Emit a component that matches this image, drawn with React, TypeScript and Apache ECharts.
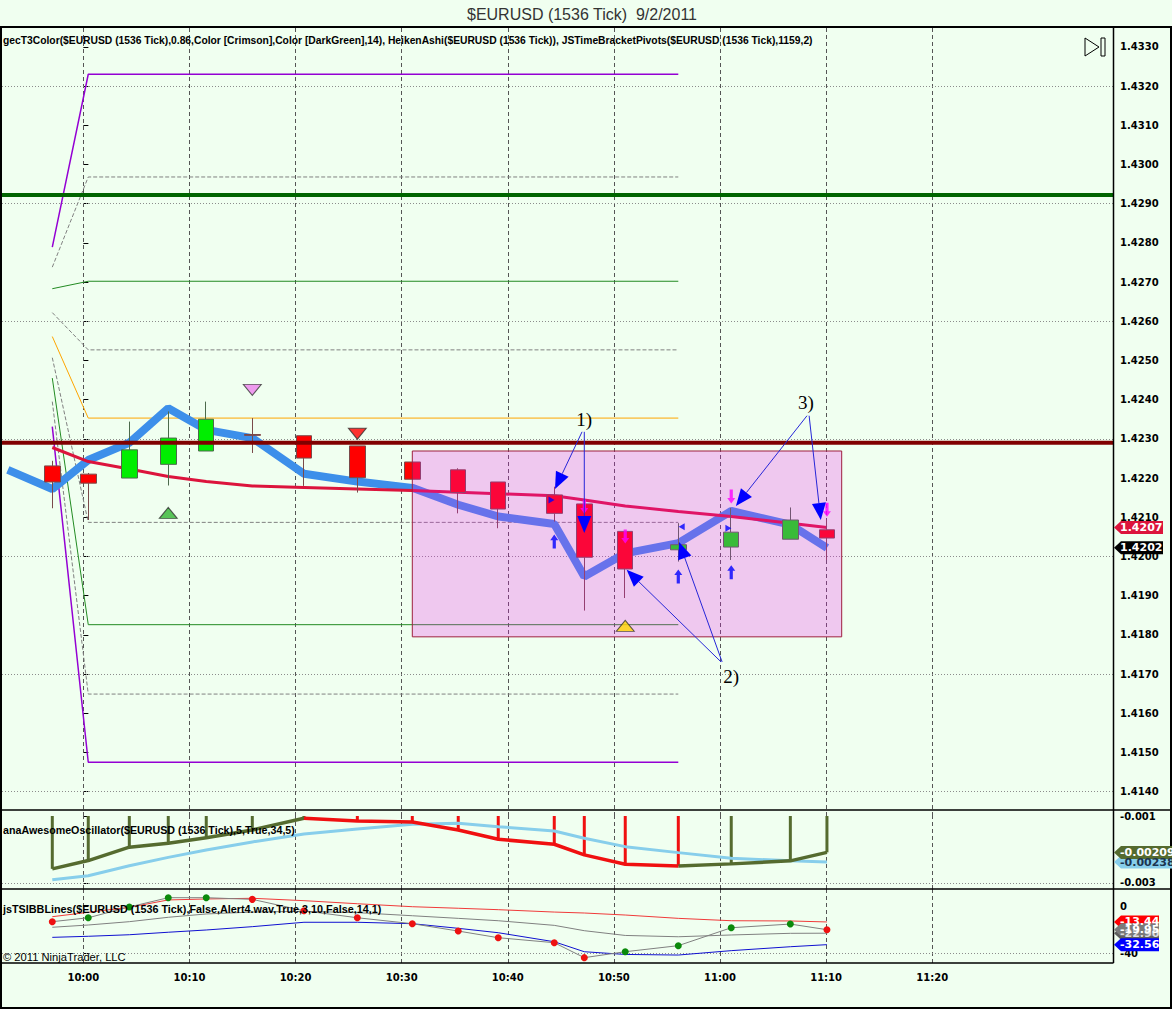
import React, { useEffect, useRef } from "react";
import * as echarts from "echarts";

// ---------------- DATA ----------------
// bar times: minutes after 10:00 (1536-tick Heiken-Ashi bars)
const barTimes = [-2.93, 0.46, 4.33, 8.0, 11.58, 15.92, 20.79, 25.82, 31.0, 35.33, 39.1, 44.38, 47.21, 51.07, 56.07, 61.06, 66.63, 70.08];
const haOpen = [1.42231, 1.4221, 1.422, 1.42235, 1.42269, 1.42311, 1.42308, 1.42282, 1.42241, 1.42221, 1.4219, 1.42157, 1.42134, 1.42064, 1.42017, 1.42024, 1.42044, 1.42068];
const haClose = [1.4219, 1.42187, 1.42272, 1.42302, 1.4235, 1.42309, 1.42251, 1.42201, 1.42197, 1.42163, 1.42121, 1.4211, 1.41998, 1.41968, 1.4203, 1.42062, 1.42093, 1.42047];
const haLow = [1.42123, 1.42093, 1.422, 1.42181, 1.42269, 1.42264, 1.4218, 1.42163, 1.42197, 1.4211, 1.42072, 1.42089, 1.41862, 1.41894, 1.41987, 1.41991, 1.42044, 1.41991];
const haHigh = [1.42244, 1.42213, 1.42344, 1.4237, 1.42395, 1.42353, 1.42308, 1.42282, 1.42241, 1.42225, 1.4219, 1.42178, 1.42134, 1.42064, 1.42085, 1.42124, 1.42125, 1.42093];

// gecT3Color line
const t3Vals = [1.42278, 1.42242, 1.42223, 1.42204, 1.42191, 1.4218, 1.42176, 1.42172, 1.42168, 1.42164, 1.4216, 1.42155, 1.42144, 1.42129, 1.42115, 1.42102, 1.42085, 1.42074];
// thick blue price line (starts one bar earlier)
const blueTimes = [-7.12, ...barTimes];
const blueVals = [1.42221, 1.42172, 1.42246, 1.4229, 1.42378, 1.42323, 1.42302, 1.42211, 1.42191, 1.42175, 1.42132, 1.42102, 1.42083, 1.41949, 1.42008, 1.42034, 1.42116, 1.42081, 1.42022];

// JSTimeBracketPivots: start value, bend/level value (times: first bar, second bar, end bar)
const pivotTimes = [-2.93, 0.46, 56.07];
const pivotStart = [1.42789, 1.42738, 1.42683, 1.42622, 1.42561, 1.42507, 1.42455, 1.42395, 1.42331];
const pivotLevel = [1.4323, 1.42968, 1.42702, 1.42527, 1.42353, 1.42087, 1.41826, 1.41649, 1.41475];

// horizontal key levels
const darkGreenLevel = 1.42922;
const maroonLevel = 1.4229;

// highlighted box
const boxTimes = [31.0, 71.47];
const boxPrices = [1.42269, 1.41795];

// signal triangles
const signalT = [8.0, 15.92, 25.82, 51.07];
const signalP = [1.42111, 1.42425, 1.42313, 1.41823];
const signalUp = [true, false, false, true];
// entry arrows
const upArrowT = [44.38, 56.07, 61.06];
const upArrowP = [1.42038, 1.41949, 1.4196];
const downArrowT = [47.21, 51.07, 61.06, 70.08];
const downArrowP = [1.42127, 1.42051, 1.42153, 1.42119];
const smallTriT = [44.12, 56.39, 60.79];
const smallTriP = [1.42144, 1.42076, 1.42072];
const smallTriRight = [true, false, true];

// hand-drawn annotations
const annoText = ["1)", "2)", "3)"];
const annoTextT = [47.2, 61.06, 68.1];
const annoTextP = [1.42349, 1.41695, 1.42392];
// [fromT, fromP, toT, toP]
const annoArrows = [
  [47.0, 1.42318, 44.45, 1.42172],
  [47.21, 1.42318, 47.21, 1.4206],
  [60.1, 1.41731, 51.2, 1.41966],
  [60.2, 1.41731, 56.14, 1.42037],
  [68.2, 1.42359, 61.5, 1.42129],
  [68.4, 1.42359, 69.5, 1.42093],
];

// anaAwesomeOscillator
const aoVals = [-0.002582, -0.002334, -0.001934, -0.001815, -0.001648, -0.001418, -0.001069, -0.001149, -0.001179, -0.001418, -0.001696, -0.001845, -0.002164, -0.002442, -0.002493, -0.002433, -0.002343, -0.00209];
const aoSignal = [-0.00291, -0.00279, -0.00249, -0.002239, -0.002015, -0.001776, -0.001537, -0.001388, -0.001248, -0.001218, -0.00132, -0.001448, -0.001666, -0.001917, -0.002096, -0.002263, -0.002343, -0.00238];

// jsTSIBBLines
const tsiUpper = [-9.0, -5.3, -1.1, 5.1, 5.9, 6.5, 4.5, 1.9, -0.6, -1.9, -3.1, -5.1, -5.9, -7.6, -10.4, -12.4, -12.6, -13.44];
const tsiMid = [-17.9, -16.0, -13.2, -9.5, -6.7, -5.1, -4.5, -5.6, -8.2, -10.4, -12.4, -16.3, -20.8, -24.8, -25.9, -24.4, -23.0, -22.9];
const tsiLower = [-26.4, -25.5, -24.2, -22.1, -20.2, -17.4, -13.7, -13.7, -14.9, -18.8, -22.5, -30.1, -38.5, -40.8, -41.3, -37.6, -34.3, -32.56];
const tsiLine = [-13.2, -9.9, -0.8, 7.0, 7.0, 5.6, -4.0, -9.9, -14.9, -21.1, -26.7, -30.9, -43.5, -38.5, -33.4, -18.3, -15.2, -19.95];
const tsiDotUp = [false, true, true, true, true, false, false, false, false, false, false, false, false, true, true, true, true, false];

// axes
const timeTicks = [0, 10, 20, 30, 40, 50, 60, 70, 80];
const timeLabels = ["10:00", "10:10", "10:20", "10:30", "10:40", "10:50", "11:00", "11:10", "11:20"];
const priceTicks = [1.414, 1.415, 1.416, 1.417, 1.418, 1.419, 1.42, 1.421, 1.422, 1.423, 1.424, 1.425, 1.426, 1.427, 1.428, 1.429, 1.43, 1.431, 1.432, 1.433];
const priceGrid = [1.414, 1.417, 1.42, 1.423, 1.426, 1.429, 1.432];
const aoTicks = [-0.003, -0.001];
const aoGrid = [-0.003];
const tsiTicks = [-40, 0];
const tsiGrid = [-40];

const X_MIN = -7.67;
const X_MAX = 97.04;
const MAIN_MIN = 1.41338;
const MAIN_MAX = 1.43348;
const AO_MIN = -0.003185;
const AO_MAX = -0.001;
const TSI_MIN = -48.0;
const TSI_MAX = 14.32;

const W = 1172;
const H = 1009;
const BG = "#F0FFF0";
const LABEL_FONT = '"Liberation Sans Narrow", "Liberation Sans", sans-serif';

const pivotColor = ["#9400D3", "#808080", "#228B22", "#808080", "#FFA500", "#808080", "#228B22", "#808080", "#9400D3"];
const pivotDashed = [false, true, false, true, false, true, false, true, false];

function gridLines(xs: number[], ys: number[]) {
  return {
    silent: true,
    symbol: ["none", "none"],
    precision: 6,
    label: { show: false },
    emphasis: { disabled: true },
    animation: false,
    data: [
      ...xs.map((t) => ({ xAxis: t, lineStyle: { type: [4, 3], color: "#555555", width: 1 } })),
      ...ys.map((v) => ({ yAxis: v, lineStyle: { type: [1, 2], color: "#8c8c8c", width: 1 } })),
    ],
  };
}

function yAxisCfg(gridIndex: number, min: number, max: number, ticks: number[], digits: number) {
  return {
    type: "value",
    gridIndex,
    position: "right",
    min,
    max,
    axisLine: { show: false },
    splitLine: { show: false },
    axisTick: { show: true, customValues: ticks, length: 5, lineStyle: { color: "#000", width: 1 } },
    axisLabel: {
      customValues: ticks,
      formatter: (v: number) => (digits === 0 ? String(Math.round(v)) : v.toFixed(digits)),
      color: "#000",
      fontWeight: "bold",
      fontSize: 10,
      fontFamily: "DejaVu Sans",
      margin: 7,
    },
  };
}

function xAxisCfg(gridIndex: number, showLabels: boolean) {
  return {
    type: "value",
    gridIndex,
    min: X_MIN,
    max: X_MAX,
    show: showLabels,
    axisLine: { show: false },
    axisTick: { show: false },
    splitLine: { show: false },
    axisLabel: {
      show: showLabels,
      customValues: timeTicks,
      formatter: (v: number) => {
        const i = timeTicks.indexOf(Math.round(v));
        return i >= 0 ? timeLabels[i] : "";
      },
      color: "#000",
      fontWeight: "bold",
      fontSize: 10,
      fontFamily: "DejaVu Sans",
      margin: 9,
    },
  };
}

export default function App() {
  const ref = useRef<HTMLDivElement>(null);

  useEffect(() => {
    if (!ref.current) return;
    const chart = echarts.init(ref.current, null, { renderer: "svg", width: W, height: H });

    const n = barTimes.length;
    const aoUp = aoVals.map((v, i) => (i === 0 ? true : v > aoVals[i - 1]));
    const aoGreen = aoVals.map((v, i) => (aoUp[i] || (i + 1 < n && aoUp[i + 1]) ? [barTimes[i], v] : [barTimes[i], null]));
    const aoRed = aoVals.map((v, i) => (!aoUp[i] || (i + 1 < n && !aoUp[i + 1]) ? [barTimes[i], v] : [barTimes[i], null]));

    const pivotSeries = pivotStart.map((s, k) => ({
      type: "line",
      xAxisIndex: 0,
      yAxisIndex: 0,
      z: 6,
      symbol: "none",
      silent: true,
      data: [
        [pivotTimes[0], s],
        [pivotTimes[1], pivotLevel[k]],
        [pivotTimes[2], pivotLevel[k]],
      ],
      lineStyle: {
        color: pivotColor[k],
        width: pivotColor[k] === "#9400D3" ? 1.5 : 1,
        type: pivotDashed[k] ? [4, 2] : "solid",
      },
    }));

    const option: any = {
      animation: false,
      backgroundColor: BG,
      grid: [
        { left: 2, right: 59, top: 28, height: 788 },
        { left: 2, right: 59, top: 816, height: 73 },
        { left: 2, right: 59, top: 889, height: 74 },
      ],
      xAxis: [xAxisCfg(0, false), xAxisCfg(1, false), xAxisCfg(2, true)],
      yAxis: [
        yAxisCfg(0, MAIN_MIN, MAIN_MAX, priceTicks, 4),
        yAxisCfg(1, AO_MIN, AO_MAX, aoTicks, 3),
        yAxisCfg(2, TSI_MIN, TSI_MAX, tsiTicks, 0),
      ],
      series: [
        ...pivotSeries,
        {
          type: "line",
          name: "T3",
          xAxisIndex: 0,
          yAxisIndex: 0,
          z: 8,
          symbol: "none",
          data: barTimes.map((t, i) => [t, t3Vals[i]]),
          lineStyle: { color: "#DC143C", width: 3 },
          markLine: gridLines(timeTicks, priceGrid),
        },
        {
          type: "line",
          name: "Price",
          xAxisIndex: 0,
          yAxisIndex: 0,
          z: 7,
          symbol: "none",
          data: blueTimes.map((t, i) => [t, blueVals[i]]),
          lineStyle: { color: "#3D8FEA", width: 8 },
        },
        {
          type: "candlestick",
          name: "HeikenAshi",
          xAxisIndex: 0,
          yAxisIndex: 0,
          z: 10,
          barWidth: 16,
          encode: { x: 0, y: [1, 2, 3, 4] },
          data: barTimes.map((t, i) => [t, haOpen[i], haClose[i], haLow[i], haHigh[i]]),
          itemStyle: {
            color: "#00EE00",
            color0: "#FF0000",
            borderColor: "#4c6a4c",
            borderColor0: "#7a4a4a",
            borderWidth: 1,
          },
        },
        {
          type: "custom",
          name: "Box",
          xAxisIndex: 0,
          yAxisIndex: 0,
          z: 11,
          silent: true,
          data: [[boxTimes[0], boxPrices[0], boxTimes[1], boxPrices[1]]],
          encode: { x: [0, 2], y: [1, 3] },
          renderItem: (params: any, api: any) => {
            const a = api.coord([api.value(0), api.value(1)]);
            const b = api.coord([api.value(2), api.value(3)]);
            return {
              type: "rect",
              shape: { x: a[0], y: a[1], width: b[0] - a[0], height: b[1] - a[1] },
              style: { fill: "rgba(240,26,240,0.24)", stroke: "#9E1F3F", lineWidth: 1 },
            };
          },
        },
        {
          type: "line",
          xAxisIndex: 0,
          yAxisIndex: 0,
          z: 12,
          symbol: "none",
          silent: true,
          data: [[X_MIN, darkGreenLevel], [X_MAX, darkGreenLevel]],
          lineStyle: { color: "#006400", width: 4 },
        },
        {
          type: "line",
          xAxisIndex: 0,
          yAxisIndex: 0,
          z: 12,
          symbol: "none",
          silent: true,
          data: [[X_MIN, maroonLevel], [X_MAX, maroonLevel]],
          lineStyle: { color: "#800000", width: 4 },
        },
        {
          type: "scatter",
          xAxisIndex: 0,
          yAxisIndex: 0,
          z: 13,
          symbol: "triangle",
          symbolSize: [18, 11],
          data: signalT.map((t, i) => ({
            value: [t, signalP[i]],
            symbolRotate: signalUp[i] ? 0 : 180,
            itemStyle: { color: ["#33B533", "#EE82EE", "#FF0000", "#FFD700"][i] },
          })),
          itemStyle: { borderColor: "#333", borderWidth: 1 },
        },
        {
          type: "scatter",
          xAxisIndex: 0,
          yAxisIndex: 0,
          z: 13,
          symbol: "path://M5,0 L10,6 L7,6 L7,15 L3,15 L3,6 L0,6 Z",
          symbolSize: [8, 14],
          data: upArrowT.map((t, i) => [t, upArrowP[i]]),
          itemStyle: { color: "#0000FF" },
        },
        {
          type: "scatter",
          xAxisIndex: 0,
          yAxisIndex: 0,
          z: 13,
          symbol: "path://M5,0 L10,6 L7,6 L7,15 L3,15 L3,6 L0,6 Z",
          symbolSize: [8, 14],
          symbolRotate: 180,
          data: downArrowT.map((t, i) => [t, downArrowP[i]]),
          itemStyle: { color: "#FF00FF" },
        },
        {
          type: "scatter",
          xAxisIndex: 0,
          yAxisIndex: 0,
          z: 13,
          symbol: "triangle",
          symbolSize: [7, 6],
          data: smallTriT.map((t, i) => ({ value: [t, smallTriP[i]], symbolRotate: smallTriRight[i] ? -90 : 90 })),
          itemStyle: { color: "#0000FF" },
        },
        // ---- Awesome Oscillator ----
        {
          type: "bar",
          xAxisIndex: 1,
          yAxisIndex: 1,
          z: 6,
          barWidth: 3,
          silent: true,
          data: aoVals.map((v, i) => ({
            value: [barTimes[i], v],
            itemStyle: { color: aoUp[i] ? "#556B2F" : "#F01010" },
          })),
        },
        {
          type: "line",
          xAxisIndex: 1,
          yAxisIndex: 1,
          z: 7,
          symbol: "none",
          data: barTimes.map((t, i) => [t, aoSignal[i]]),
          lineStyle: { color: "#87CEEB", width: 3 },
          markLine: gridLines(timeTicks, aoGrid),
        },
        {
          type: "line",
          xAxisIndex: 1,
          yAxisIndex: 1,
          z: 8,
          symbol: "none",
          connectNulls: false,
          data: aoGreen,
          lineStyle: { color: "#556B2F", width: 3.5 },
        },
        {
          type: "line",
          xAxisIndex: 1,
          yAxisIndex: 1,
          z: 8,
          symbol: "none",
          connectNulls: false,
          data: aoRed,
          lineStyle: { color: "#F01010", width: 3.5 },
        },
        // ---- TSI BB lines ----
        {
          type: "line",
          xAxisIndex: 2,
          yAxisIndex: 2,
          z: 7,
          symbol: "none",
          data: barTimes.map((t, i) => [t, tsiUpper[i]]),
          lineStyle: { color: "#F03A3A", width: 1 },
          markLine: gridLines(timeTicks, tsiGrid),
        },
        {
          type: "line",
          xAxisIndex: 2,
          yAxisIndex: 2,
          z: 7,
          symbol: "none",
          data: barTimes.map((t, i) => [t, tsiMid[i]]),
          lineStyle: { color: "#808080", width: 1 },
        },
        {
          type: "line",
          xAxisIndex: 2,
          yAxisIndex: 2,
          z: 7,
          symbol: "none",
          data: barTimes.map((t, i) => [t, tsiLower[i]]),
          lineStyle: { color: "#1010D0", width: 1 },
        },
        {
          type: "line",
          xAxisIndex: 2,
          yAxisIndex: 2,
          z: 8,
          symbol: "circle",
          symbolSize: 7,
          showSymbol: true,
          data: barTimes.map((t, i) => ({
            value: [t, tsiLine[i]],
            itemStyle: { color: tsiDotUp[i] ? "#0A8A0A" : "#EE1111" },
          })),
          lineStyle: { color: "#808080", width: 1 },
        },
      ],
    };

    chart.setOption(option);

    // ---- graphics positioned through the chart's own scales ----
    const px = (t: number, p: number) => chart.convertToPixel({ gridIndex: 0 }, [t, p]) as number[];
    const g: any[] = [];

    // title + labels
    g.push({
      type: "text",
      x: 582,
      y: 14,
      z: 100,
      style: {
        text: "$EURUSD (1536 Tick)  9/2/2011",
        font: `16px ${LABEL_FONT}`,
        fill: "#333",
        textAlign: "center",
        textVerticalAlign: "middle",
      },
    });
    const panelLabels = [
      { text: "gecT3Color($EURUSD (1536 Tick),0.86,Color [Crimson],Color [DarkGreen],14), HeikenAshi($EURUSD (1536 Tick)), JSTimeBracketPivots($EURUSD (1536 Tick),1159,2)", y: 40, bold: true, size: 10.3 },
      { text: "anaAwesomeOscillator($EURUSD (1536 Tick),5,True,34,5)", y: 830, bold: true, size: 10.7 },
      { text: "jsTSIBBLines($EURUSD (1536 Tick),False,Alert4.wav,True,3,10,False,14,1)", y: 909, bold: true, size: 10.8 },
      { text: "© 2011 NinjaTrader, LLC", y: 957, bold: false, size: 11.2 },
    ];
    panelLabels.forEach((l) =>
      g.push({
        type: "text",
        x: 3,
        y: l.y,
        z: 100,
        style: {
          text: l.text,
          font: `${l.bold ? "bold " : ""}${l.size}px ${LABEL_FONT}`,
          fill: "#000",
          textAlign: "left",
          textVerticalAlign: "middle",
        },
      })
    );

    // frame
    const stroke = { stroke: "#000", lineWidth: 1.5 };
    g.push({ type: "rect", z: 100, shape: { x: 1, y: 27, width: 1170, height: 981 }, style: { fill: "none", stroke: "#000", lineWidth: 2 } });
    g.push({ type: "line", z: 100, shape: { x1: 0, y1: 810, x2: W, y2: 810 }, style: stroke });
    g.push({ type: "line", z: 100, shape: { x1: 0, y1: 889, x2: W, y2: 889 }, style: stroke });
    g.push({ type: "line", z: 100, shape: { x1: 0, y1: 963, x2: 1113.5, y2: 963 }, style: stroke });
    g.push({ type: "line", z: 100, shape: { x1: 1113.5, y1: 27, x2: 1113.5, y2: 963 }, style: stroke });

    // play icon
    g.push({ type: "polygon", z: 100, shape: { points: [[1085, 38], [1085, 56], [1099, 47]] }, style: { fill: "none", stroke: "#000", lineWidth: 1 } });
    g.push({ type: "rect", z: 100, shape: { x: 1101, y: 38, width: 4, height: 18 }, style: { fill: "none", stroke: "#000", lineWidth: 1 } });

    // annotation arrows
    annoArrows.forEach((a) => {
      const s = px(a[0], a[1]);
      const e = px(a[2], a[3]);
      const dx = e[0] - s[0];
      const dy = e[1] - s[1];
      const L = Math.hypot(dx, dy) || 1;
      const ux = dx / L;
      const uy = dy / L;
      const hl = 17;
      const hw = 7;
      const bx = e[0] - ux * hl;
      const by = e[1] - uy * hl;
      g.push({ type: "line", z: 101, shape: { x1: s[0], y1: s[1], x2: bx, y2: by }, style: { stroke: "#2626D8", lineWidth: 1 } });
      g.push({
        type: "polygon",
        z: 101,
        shape: { points: [[e[0], e[1]], [bx - uy * hw, by + ux * hw], [bx + uy * hw, by - ux * hw]] },
        style: { fill: "#0000FF" },
      });
    });
    annoText.forEach((txt, i) => {
      const p = px(annoTextT[i], annoTextP[i]);
      g.push({
        type: "text",
        z: 101,
        x: p[0],
        y: p[1],
        style: { text: txt, font: '19px "Liberation Serif", serif', fill: "#000", textAlign: "center", textVerticalAlign: "middle" },
      });
    });

    // value tags on the right axis
    const last = n - 1;
    const tags = [
      { axis: 0, value: t3Vals[last], digits: 4, bg: "#DC143C", fg: "#fff", w: 49 },
      { axis: 0, value: blueVals[last + 1], digits: 4, bg: "#000000", fg: "#fff", w: 49 },
      { axis: 1, value: aoSignal[last], digits: 5, bg: "#87CEEB", fg: "#1c3550", w: 60 },
      { axis: 1, value: aoVals[last], digits: 5, bg: "#556B2F", fg: "#fff", w: 60 },
      { axis: 2, value: tsiUpper[last], digits: 2, bg: "#FF0000", fg: "#fff", w: 45 },
      { axis: 2, value: tsiMid[last], digits: 2, bg: "#5c5c5c", fg: "#ddd", w: 45 },
      { axis: 2, value: tsiLine[last], digits: 2, bg: "#7a7a7a", fg: "#fff", w: 45 },
      { axis: 2, value: tsiLower[last], digits: 2, bg: "#0000FF", fg: "#fff", w: 45 },
    ];
    tags.forEach((tg) => {
      const y = chart.convertToPixel({ yAxisIndex: tg.axis } as any, tg.value) as unknown as number;
      const x0 = 1114;
      const h = 6.5;
      g.push({
        type: "polygon",
        z: 102,
        shape: { points: [[x0, y], [x0 + 7, y - h], [x0 + tg.w, y - h], [x0 + tg.w, y + h], [x0 + 7, y + h]] },
        style: { fill: tg.bg },
      });
      g.push({
        type: "text",
        z: 103,
        x: x0 + 6,
        y: y,
        style: {
          text: tg.value.toFixed(tg.digits),
          font: 'bold 11px "DejaVu Sans", sans-serif',
          fill: tg.fg,
          textAlign: "left",
          textVerticalAlign: "middle",
        },
      });
    });

    chart.setOption({ graphic: g });

    return () => chart.dispose();
  }, []);

  return <div ref={ref} style={{ position: "absolute", left: 0, top: 0, width: W, height: H }} />;
}
